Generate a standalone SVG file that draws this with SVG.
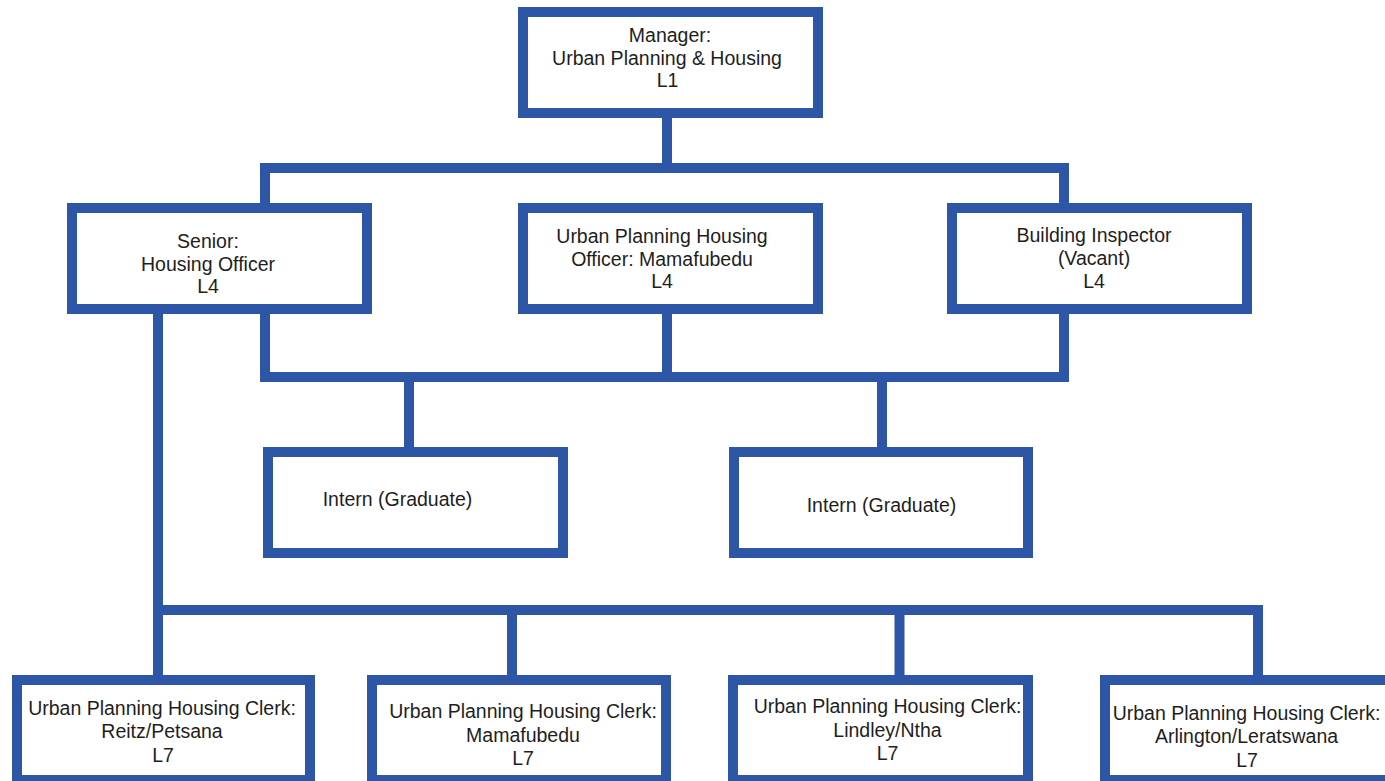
<svg xmlns="http://www.w3.org/2000/svg" width="1385" height="781" viewBox="0 0 1385 781">
<style>
.box{fill:#fff;stroke:#2D56A6;stroke-width:10}
.con{fill:none;stroke:#2D56A6;stroke-width:10;stroke-linejoin:miter;stroke-linecap:butt}
text{font-family:"Liberation Sans",Arial,sans-serif;font-size:19.5px;fill:#1e1e1e;text-anchor:middle}
</style>
<rect width="1385" height="781" fill="#fff"/>
<g id="connectors">
<path class="con" d="M667,113 V168"/>
<path class="con" d="M265,208 V168 H1064 V208"/>
<path class="con" d="M265,309 V377 H1064 V309"/>
<path class="con" d="M667,309 V377"/>
<path class="con" d="M409,377 V452"/>
<path class="con" d="M882,377 V452"/>
<path class="con" d="M158,309 V680"/>
<path class="con" d="M158,610 H1258 V680"/>
<path class="con" d="M512,610 V680"/>
<path class="con" d="M899.5,610 V680"/>
</g>
<g id="manager">
<rect class="box" x="523" y="12" width="295" height="101"/>
<text x="670" y="42">Manager:</text>
<text x="667" y="64.5">Urban Planning &amp; Housing</text>
<text x="667.5" y="87">L1</text>
</g>
<g id="senior-housing-officer">
<rect class="box" x="72" y="208" width="295" height="101"/>
<text x="208" y="248">Senior:</text>
<text x="208" y="271">Housing Officer</text>
<text x="208" y="293">L4</text>
</g>
<g id="housing-officer">
<rect class="box" x="523" y="208" width="295" height="101"/>
<text x="662" y="243">Urban Planning Housing</text>
<text x="662" y="266">Officer: Mamafubedu</text>
<text x="662" y="288">L4</text>
</g>
<g id="building-inspector">
<rect class="box" x="952" y="208" width="295" height="101"/>
<text x="1094" y="242">Building Inspector</text>
<text x="1094" y="265">(Vacant)</text>
<text x="1094" y="288">L4</text>
</g>
<g id="intern-1">
<rect class="box" x="268" y="452" width="295" height="101"/>
<text x="397.5" y="506">Intern (Graduate)</text>
</g>
<g id="intern-2">
<rect class="box" x="734" y="452" width="294" height="101"/>
<text x="881.5" y="512">Intern (Graduate)</text>
</g>
<g id="clerk-1">
<rect class="box" x="17" y="680" width="293" height="100"/>
<text x="162" y="715">Urban Planning Housing Clerk:</text>
<text x="162" y="738">Reitz/Petsana</text>
<text x="163" y="762">L7</text>
</g>
<g id="clerk-2">
<rect class="box" x="372" y="680" width="294" height="100"/>
<text x="523" y="718">Urban Planning Housing Clerk:</text>
<text x="523" y="742">Mamafubedu</text>
<text x="523" y="765">L7</text>
</g>
<g id="clerk-3">
<rect class="box" x="733" y="680" width="295" height="100"/>
<text x="887.5" y="713">Urban Planning Housing Clerk:</text>
<text x="887.5" y="737">Lindley/Ntha</text>
<text x="887.5" y="760">L7</text>
</g>
<g id="clerk-4">
<rect class="box" x="1105" y="680" width="295" height="100"/>
<text x="1246.5" y="720">Urban Planning Housing Clerk:</text>
<text x="1246.5" y="743">Arlington/Leratswana</text>
<text x="1247" y="767">L7</text>
</g>
</svg>
